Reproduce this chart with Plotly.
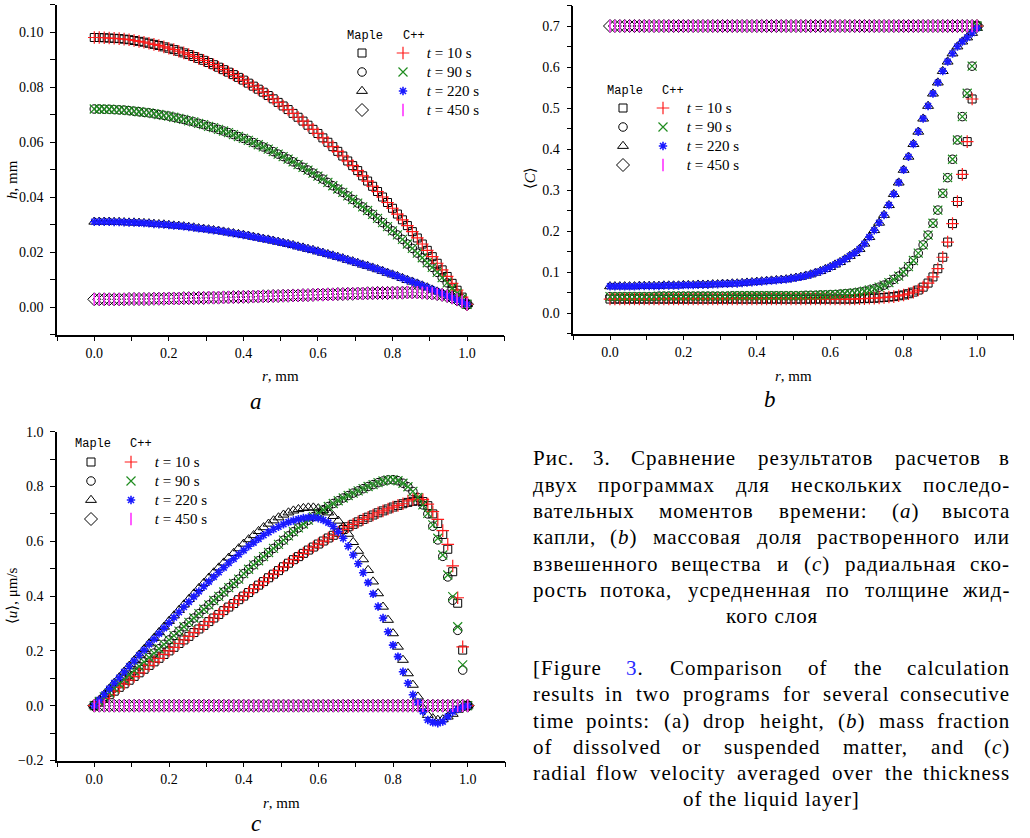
import re
import plotly.graph_objects as go

W, H = 1030, 838

# ---------------- data ----------------
r = [0.0, 0.0133, 0.0267, 0.04, 0.0533, 0.0667, 0.08, 0.0933, 0.1067, 0.12,
     0.1333, 0.1467, 0.16, 0.1733, 0.1867, 0.2, 0.2133, 0.2267, 0.24, 0.2533,
     0.2667, 0.28, 0.2933, 0.3067, 0.32, 0.3333, 0.3467, 0.36, 0.3733, 0.3867,
     0.4, 0.4133, 0.4267, 0.44, 0.4533, 0.4667, 0.48, 0.4933, 0.5067, 0.52,
     0.5333, 0.5467, 0.56, 0.5733, 0.5867, 0.6, 0.6133, 0.6267, 0.64, 0.6533,
     0.6667, 0.68, 0.6933, 0.7067, 0.72, 0.7333, 0.7467, 0.76, 0.7733, 0.7867,
     0.8, 0.8133, 0.8267, 0.84, 0.8533, 0.8667, 0.88, 0.8933, 0.9067, 0.92,
     0.9333, 0.9467, 0.96, 0.9733, 0.9867, 1.0]

times = ["10", "90", "220", "450"]

# (a) drop height h, mm
h10 = [.0980, .0980, .0979, .0978, .0977, .0976, .0974, .0972, .0969, .0966,
       .0963, .0959, .0955, .0951, .0946, .0941, .0936, .0930, .0924, .0918,
       .0911, .0904, .0897, .0889, .0881, .0872, .0863, .0854, .0845, .0835,
       .0825, .0814, .0803, .0792, .0781, .0769, .0757, .0744, .0731, .0718,
       .0704, .0690, .0676, .0661, .0646, .0631, .0615, .0599, .0583, .0566,
       .0549, .0531, .0514, .0496, .0477, .0458, .0439, .0420, .0400, .0380,
       .0359, .0338, .0317, .0296, .0274, .0251, .0229, .0206, .0183, .0159,
       .0135, .0111, .0086, .0061, .0036, .0010]
h90 = [.0720, .0720, .0719, .0719, .0718, .0717, .0716, .0714, .0712, .0710,
       .0708, .0706, .0703, .0700, .0697, .0694, .0690, .0686, .0682, .0677,
       .0673, .0668, .0663, .0657, .0652, .0646, .0640, .0634, .0627, .0620,
       .0613, .0606, .0598, .0590, .0582, .0574, .0565, .0556, .0547, .0538,
       .0528, .0518, .0508, .0498, .0487, .0476, .0465, .0453, .0441, .0429,
       .0417, .0404, .0391, .0378, .0364, .0351, .0337, .0322, .0307, .0292,
       .0277, .0262, .0246, .0229, .0213, .0196, .0179, .0161, .0144, .0126,
       .0107, .0088, .0069, .0050, .0030, .0010]
h220 = [.0310, .0310, .0310, .0310, .0309, .0309, .0308, .0307, .0307, .0306,
        .0305, .0304, .0302, .0301, .0300, .0298, .0296, .0295, .0293, .0291,
        .0289, .0286, .0284, .0282, .0279, .0277, .0274, .0271, .0268, .0265,
        .0262, .0259, .0255, .0252, .0248, .0245, .0241, .0237, .0233, .0229,
        .0225, .0220, .0216, .0211, .0207, .0202, .0197, .0192, .0187, .0182,
        .0177, .0171, .0166, .0160, .0154, .0149, .0143, .0137, .0131, .0124,
        .0118, .0112, .0105, .0098, .0092, .0085, .0078, .0071, .0063, .0056,
        .0049, .0041, .0034, .0026, .0018, .0010]
h450 = [.0028, .0028, .0028, .0028, .0028, .0028, .0028, .0029, .0029, .0029,
        .0029, .0029, .0030, .0030, .0030, .0031, .0031, .0031, .0032, .0032,
        .0032, .0033, .0033, .0034, .0034, .0034, .0035, .0035, .0036, .0036,
        .0037, .0037, .0038, .0038, .0039, .0039, .0040, .0040, .0041, .0041,
        .0042, .0042, .0043, .0043, .0044, .0045, .0045, .0046, .0046, .0047,
        .0047, .0048, .0048, .0049, .0049, .0050, .0050, .0051, .0051, .0051,
        .0052, .0052, .0052, .0053, .0053, .0053, .0052, .0051, .0049, .0047,
        .0044, .0040, .0034, .0027, .0019, .0010]

# (b) mass fraction <C>
c10 = [.034, .034, .034, .034, .034, .034, .034, .034, .034, .034,
       .034, .034, .034, .034, .034, .034, .034, .034, .034, .034,
       .034, .034, .034, .034, .034, .034, .034, .034, .034, .034,
       .034, .034, .034, .034, .034, .034, .034, .034, .034, .034,
       .034, .034, .034, .034, .034, .034, .034, .034, .034, .034,
       .034, .035, .035, .036, .036, .037, .038, .039, .040, .042,
       .044, .047, .051, .056, .063, .073, .088, .108, .136, .173,
       .218, .272, .338, .418, .522, .700]
c90 = [.040, .040, .040, .040, .040, .040, .040, .040, .040, .040,
       .041, .041, .041, .041, .041, .041, .041, .041, .041, .041,
       .041, .041, .041, .041, .041, .042, .042, .042, .042, .042,
       .042, .042, .042, .042, .042, .042, .042, .042, .042, .042,
       .043, .043, .043, .044, .044, .045, .045, .046, .047, .048,
       .049, .051, .053, .056, .059, .063, .068, .074, .082, .090,
       .100, .113, .128, .146, .166, .190, .219, .251, .292, .330,
       .375, .422, .479, .536, .602, .700]
c220 = [.065, .065, .065, .065, .065, .065, .066, .066, .066, .066,
        .066, .067, .067, .067, .067, .068, .068, .068, .069, .069,
        .069, .070, .070, .071, .071, .072, .072, .073, .074, .075,
        .076, .077, .078, .079, .080, .081, .082, .084, .086, .088,
        .091, .094, .098, .102, .107, .112, .118, .124, .131, .139,
        .146, .156, .169, .185, .202, .220, .239, .263, .290, .318,
        .349, .381, .412, .442, .474, .505, .535, .562, .590, .613,
        .633, .650, .662, .672, .683, .695]
c450 = [.70, .70, .70, .70, .70, .70, .70, .70, .70, .70,
        .70, .70, .70, .70, .70, .70, .70, .70, .70, .70,
        .70, .70, .70, .70, .70, .70, .70, .70, .70, .70,
        .70, .70, .70, .70, .70, .70, .70, .70, .70, .70,
        .70, .70, .70, .70, .70, .70, .70, .70, .70, .70,
        .70, .70, .70, .70, .70, .70, .70, .70, .70, .70,
        .70, .70, .70, .70, .70, .70, .70, .70, .70, .70,
        .70, .70, .70, .70, .70, .70]

# (c) radial velocity <u>, um/s  (Maple and C++ differ slightly)
u10_maple = [0, .013, .027, .040, .053, .067, .080, .093, .107, .120,
             .133, .147, .160, .173, .187, .200, .213, .227, .240, .253,
             .267, .280, .293, .307, .320, .333, .347, .360, .373, .387,
             .400, .413, .427, .440, .453, .467, .480, .493, .507, .520,
             .533, .544, .556, .568, .579, .590, .601, .612, .622, .633,
             .643, .653, .662, .671, .680, .688, .696, .704, .711, .718,
             .725, .731, .737, .742, .746, .748, .745, .730, .700, .665,
             .625, .571, .489, .374, .203, 0]
u10_cpp = [0, .013, .027, .040, .053, .067, .080, .093, .107, .120,
           .133, .147, .160, .173, .187, .200, .213, .227, .240, .253,
           .267, .280, .293, .307, .320, .333, .347, .360, .373, .387,
           .400, .413, .427, .440, .453, .467, .480, .493, .507, .520,
           .533, .544, .556, .568, .579, .590, .601, .612, .622, .633,
           .643, .653, .662, .671, .680, .688, .696, .704, .711, .718,
           .725, .731, .737, .747, .752, .755, .752, .736, .708, .680,
           .639, .589, .510, .394, .215, 0]
u90_maple = [0, .016, .032, .048, .064, .080, .096, .112, .128, .144,
             .160, .176, .192, .208, .224, .240, .256, .272, .288, .304,
             .320, .336, .352, .368, .384, .399, .415, .431, .446, .462,
             .482, .498, .514, .529, .544, .559, .574, .589, .604, .620,
             .635, .649, .663, .677, .690, .703, .715, .727, .738, .748,
             .758, .767, .776, .784, .792, .800, .807, .814, .820, .824,
             .825, .821, .812, .799, .782, .760, .733, .700, .655, .605,
             .545, .470, .385, .275, .130, 0]
u90_cpp = [0, .016, .032, .048, .064, .080, .096, .112, .128, .144,
           .160, .176, .192, .208, .224, .240, .256, .272, .288, .304,
           .320, .336, .352, .368, .384, .399, .415, .431, .446, .462,
           .482, .498, .514, .529, .544, .559, .574, .589, .604, .620,
           .635, .649, .663, .677, .690, .703, .715, .727, .738, .748,
           .758, .767, .776, .784, .792, .800, .807, .814, .820, .824,
           .825, .821, .812, .799, .782, .760, .733, .702, .660, .611,
           .550, .477, .398, .288, .149, 0]
u220_maple = [0, .021, .041, .062, .083, .103, .124, .145, .165, .186,
              .206, .227, .247, .268, .288, .309, .329, .349, .369, .389,
              .409, .429, .448, .467, .486, .504, .522, .540, .557, .574,
              .591, .607, .622, .637, .651, .664, .676, .687, .697, .705,
              .712, .717, .721, .723, .723, .720, .714, .705, .692, .675,
              .653, .627, .597, .565, .534, .495, .453, .410, .361, .313,
              .264, .215, .167, .118, .076, .033, -.009, -.034, -.046, -.052,
              -.050, -.040, -.030, -.015, -.005, 0]
u220_cpp = [0, .021, .041, .062, .083, .102, .123, .144, .163, .184,
            .203, .224, .243, .263, .283, .303, .322, .341, .360, .379,
            .398, .417, .435, .453, .470, .487, .504, .521, .536, .552,
            .567, .582, .595, .609, .622, .633, .644, .653, .662, .670,
            .676, .681, .685, .687, .687, .684, .678, .668, .654, .635,
            .611, .582, .550, .518, .485, .449, .408, .362, .320, .270,
            .221, .179, .124, .082, .040, .012, -.021, -.052, -.061, -.064,
            -.058, -.040, -.022, -.012, -.005, 0]
u450 = [0, 0, 0, 0, 0, 0, 0, 0, 0, 0,
        0, 0, 0, 0, 0, 0, 0, 0, 0, 0,
        0, 0, 0, 0, 0, 0, 0, 0, 0, 0,
        0, 0, 0, 0, 0, 0, 0, 0, 0, 0,
        0, 0, 0, 0, 0, 0, 0, 0, 0, 0,
        0, 0, 0, 0, 0, 0, 0, 0, 0, 0,
        0, 0, 0, 0, 0, 0, 0, 0, 0, 0,
        0, 0, 0, 0, 0, 0]

panel_maple = {
    "a": [h10, h90, h220, h450],
    "b": [c10, c90, c220, c450],
    "c": [u10_maple, u90_maple, u220_maple, u450],
}
panel_cpp = {
    "a": [h10, h90, h220, h450],
    "b": [c10, c90, c220, c450],
    "c": [u10_cpp, u90_cpp, u220_cpp, u450],
}

# ---------------- styles ----------------
maple_sym = ["square-open", "circle-open", "triangle-up-open", "diamond-open"]
maple_size = [8, 8.5, 9.5, 10]
cpp_sym = ["cross-thin-open", "x-thin-open", "asterisk-open", "line-ns-open"]
cpp_col = ["#ff1a1a", "#1f8c1f", "#1a1aff", "#ff33ff"]
cpp_size = [9, 9, 7, 9]
cpp_lw = [1.2, 1.2, 1.6, 1.6]

SERIF = "Liberation Serif, DejaVu Serif, serif"
MONO = "Liberation Mono, DejaVu Sans Mono, monospace"

fig = go.Figure()

axes = {"a": ("x", "y"), "b": ("x2", "y2"), "c": ("x3", "y3")}
legends = {"a": ("legend2", "legend3"), "b": ("legend4", "legend5"), "c": ("legend6", "legend7")}

for p in ["a", "b", "c"]:
    xa, ya = axes[p]
    lm, lc = legends[p]
    for k in range(4):
        fig.add_trace(go.Scatter(
            x=r, y=panel_maple[p][k], mode="markers", xaxis=xa, yaxis=ya,
            name="\u00a0", legend=lm, legendrank=k + 1,
            marker=dict(symbol=maple_sym[k], size=maple_size[k], color="black",
                        line=dict(color="black", width=1)),
            hoverinfo="skip"))
    for k in range(4):
        fig.add_trace(go.Scatter(
            x=r, y=panel_cpp[p][k], mode="markers", xaxis=xa, yaxis=ya,
            name='<span style="font-size:15px">\u00a0<i>t</i> = %s s</span>' % times[k],
            legend=lc, legendrank=k + 1,
            marker=dict(symbol=cpp_sym[k], size=cpp_size[k], color=cpp_col[k],
                        line=dict(color=cpp_col[k], width=cpp_lw[k])),
            hoverinfo="skip"))


def px(x):
    return x / W


def py(y):
    return 1 - y / H


def axstyle(dtick, minor_dtick, fmt, rng, domain, anchor, standoff):
    return dict(
        range=rng, domain=domain, anchor=anchor, autorange=False,
        showline=True, linecolor="black", linewidth=1.5,
        ticks="outside", ticklen=5, tickwidth=1.1, tickcolor="black",
        tick0=0, dtick=dtick, tickformat=fmt,
        minor=dict(ticks="outside", ticklen=5, tickwidth=1.1, tickcolor="black",
                   dtick=minor_dtick, tick0=0, showgrid=False),
        showgrid=False, zeroline=False, mirror=False, automargin=False,
        ticklabelstandoff=standoff,
        tickfont=dict(family=SERIF, size=14, color="black"))


lay = dict(
    width=W, height=H, margin=dict(l=0, r=0, t=0, b=0, pad=0, autoexpand=False),
    paper_bgcolor="white", plot_bgcolor="white", showlegend=True,
    xaxis=axstyle(0.2, 0.1, ".1f", [-0.1, 1.1], [px(57), px(504.3)], "y", 0),
    yaxis=axstyle(0.02, 0.01, ".2f", [-0.01, 0.11], [py(334.5), py(4.5)], "x", 4),
    xaxis2=axstyle(0.2, 0.1, ".1f", [-0.1, 1.1], [px(573.3), px(1013.7)], "y2", 0),
    yaxis2=axstyle(0.1, 0.05, ".1f", [-0.05, 0.75], [py(333.5), py(5.5)], "x2", 4),
    xaxis3=axstyle(0.2, 0.1, ".1f", [-0.1, 1.1], [px(57), px(505)], "y3", 0),
    yaxis3=axstyle(0.2, 0.1, ".1f", [-0.2, 1.0], [py(760.5), py(431.7)], "x3", 4),
)

leg_pos = {
    "legend2": (342, 38.5), "legend3": (383, 38.5),
    "legend4": (603, 93.5), "legend5": (643, 93.5),
    "legend6": (71, 447.5), "legend7": (111, 447.5),
}
for name, (lx, ly) in leg_pos.items():
    lay[name] = dict(x=px(lx), y=py(ly), xanchor="left", yanchor="top",
                     xref="paper", yref="paper",
                     bgcolor="rgba(0,0,0,0)", borderwidth=0, tracegroupgap=0,
                     itemwidth=30, itemclick=False, itemdoubleclick=False,
                     font=dict(family=SERIF, size=12, color="black"))

fig.update_layout(**lay)

ann = []


def text(x, y, s, size=15, family=SERIF, xanchor="center", angle=0, color="black"):
    ann.append(dict(x=px(x), y=py(y), xref="paper", yref="paper", text=s,
                    showarrow=False, xanchor=xanchor, yanchor="middle",
                    textangle=angle, font=dict(family=family, size=size, color=color)))


# legend headers
for (mx, cx, hy) in [(365, 401, 36), (625, 660, 91), (93, 128, 444)]:
    text(mx, hy, "Maple", size=12, family=MONO)
    text(cx, hy, "C++", size=12, family=MONO, xanchor="left")

# axis titles
text(12, 180, "<i>h</i>, mm", size=15, angle=-90)
text(280, 376, "<i>r</i>, mm", size=15)
text(530, 178, "\u27e8<i>C</i>\u27e9", size=15, angle=-90)
text(793, 376, "<i>r</i>, mm", size=15)
text(12, 596, "\u27e8<i>u</i>\u27e9, \u03bcm/s", size=15, angle=-90)
text(281, 803, "<i>r</i>, mm", size=15)

# panel letters
text(256, 401, "<i>a</i>", size=23)
text(770, 400, "<i>b</i>", size=23)
text(256, 823, "<i>c</i>", size=23)

# ---------------- caption (justified block) ----------------
CAP_SIZE = 21
LS = 1.0
CAP_L, CAP_R = 531, 1012

# approximate Times (Liberation Serif) advance widths, em units
WID = {}
WID.update(dict(zip("abcdefghijklmnopqrstuvwxyz",
                    [.444, .5, .444, .5, .444, .333, .5, .5, .278, .278, .5, .278, .778,
                     .5, .5, .5, .5, .333, .389, .278, .5, .5, .722, .5, .5, .444])))
WID.update({"C": .667, "F": .556, "P": .556, "R": .667, "T": .611,
            ".": .25, ",": .25, ":": .278, "(": .333, ")": .333, "[": .333, "]": .333,
            "-": .333, " ": .25})
WID.update({d: .5 for d in "0123456789"})
WID.update(dict(zip("абвгдежзийклмнопрстуфхцчшщъыьэюя",
                    [.444, .509, .472, .410, .509, .444, .691, .395, .535, .535, .486, .499,
                     .633, .535, .5, .535, .5, .444, .437, .5, .648, .5, .535, .503, .770,
                     .770, .517, .672, .456, .429, .747, .460])))
WID.update({"Р": .556, "С": .667})


def wwidth(word):
    plain = re.sub(r"<[^>]+>", "", word)
    return sum(WID.get(ch, .5) for ch in plain) * CAP_SIZE + LS * len(plain)


def cap_word(x, y, s, anchor):
    ann.append(dict(x=px(x), y=py(y), xref="paper", yref="paper",
                    text='<span style="letter-spacing:%.1fpx">%s</span>' % (LS, s),
                    showarrow=False, xanchor=anchor, yanchor="middle",
                    font=dict(family=SERIF, size=CAP_SIZE, color="black")))


cap = [
    (458, "Рис. 3.  Сравнение результатов расчетов в", "j"),
    (485, "двух программах для нескольких последо-", "j"),
    (511, "вательных моментов времени: (<i>a</i>) высота", "j"),
    (537, "капли, (<i>b</i>) массовая доля растворенного или", "j"),
    (564, "взвешенного вещества и (<i>c</i>) радиальная ско-", "j"),
    (590, "рость потока, усредненная по толщине жид-", "j"),
    (616, "кого слоя", "c"),
    (668, "[Figure <span style='color:#2a2aff'>3</span>. Comparison of the calculation", "j"),
    (694, "results in two programs for several consecutive", "j"),
    (721, "time points: (a) drop height, (<i>b</i>) mass fraction", "j"),
    (747, "of dissolved or suspended matter, and (<i>c</i>)", "j"),
    (773, "radial flow velocity averaged over the thickness", "j"),
    (799, "of the liquid layer]", "c"),
]
for y, s, mode in cap:
    if mode == "c":
        cap_word((CAP_L + CAP_R) / 2, y, s, "center")
        continue
    # split on spaces that are not inside an html tag
    words = [w for w in re.split(r" (?![^<]*>)", s) if w]
    ws = [wwidth(w) for w in words]
    gap = (CAP_R - CAP_L - sum(ws)) / (len(words) - 1)
    pos = CAP_L
    for i, (w, wd) in enumerate(zip(words, ws)):
        if i == 0:
            cap_word(CAP_L, y, w, "left")
        elif i == len(words) - 1:
            cap_word(CAP_R, y, w, "right")
        else:
            cap_word(pos + wd / 2, y, w, "center")
        pos += wd + gap

fig.update_layout(annotations=ann)
fig.write_html("out.html")
